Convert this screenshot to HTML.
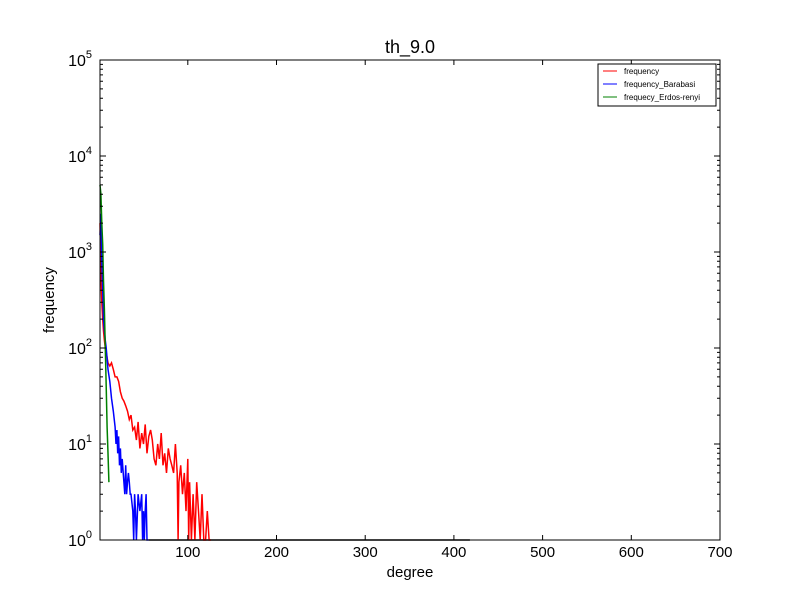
<!DOCTYPE html>
<html><head><meta charset="utf-8"><style>
body{margin:0;background:#fff;}
svg{display:block;font-family:"Liberation Sans","DejaVu Sans",sans-serif;}
</style></head><body>
<svg id="c" width="800" height="600">
<rect width="800" height="600" fill="#fff"/>
<text x="410" y="53" font-size="18" text-anchor="middle">th_9.0</text>
<g id="plot"></g>
<rect x="100" y="60" width="620" height="480" fill="none" stroke="#000"/>
<g id="axes"></g>
<text x="410" y="577" font-size="15" text-anchor="middle">degree</text>
<text x="54" y="300" font-size="15" text-anchor="middle" transform="rotate(-90 54 300)">frequency</text>
<g>
<rect x="598" y="64" width="118" height="42" fill="#fff" stroke="#000"/>
<line x1="603" y1="71" x2="617" y2="71" stroke="red"/><text x="624" y="74" font-size="8">frequency</text>
<line x1="603" y1="84" x2="617" y2="84" stroke="blue"/><text x="624" y="87" font-size="8">frequency_Barabasi</text>
<line x1="603" y1="97" x2="617" y2="97" stroke="green"/><text x="624" y="100" font-size="8">frequecy_Erdos-renyi</text>
</g>
</svg>
<script>
const xTicks=[100,200,300,400,500,600,700];
const yExps=[0,1,2,3,4,5];
const redDeg=[1,2,3,4,5,6,7,8,10,12,14,16,18,20,22,24,26,28,30,32,34,36,38,40,42,44,46,48,50,52,54,56,58,60,62,64,66,68,70,72,74,76,78,80,82,84,86,88,89,90,92,94,96,98,100,101,102,104,106,108,110,112,114,116,118,120,122,124,126];
const redVal=[2000,600,300,200,150,120,100,90,70,65,70,60,50,50,45,35,30,28,25,22,18,20,14,15,11,17,9,13,10,16,8,12,14,11,7,6,10,7,13,6,8,5,9,7,6,5,10,5,1,4,6,3,5,2,7,1,4,1,3,1,4,2,1,3,1,1,2,1,1];
const blueDeg=[1,2,3,4,5,6,7,8,10,12,14,16,18,19,20,21,22,23,24,25,26,28,29,30,31,32,33,34,35,36,38,39,40,41,42,44,46,48,49,50,51,52,53,54,55,56];
const blueVal=[1500,2500,800,400,200,150,120,100,60,45,30,22,15,10,14,8,12,6,9,5,7,4,3,6,3,4,5,4,3,3,2,1,3,2,1,3,2,3,1,2,1,2,3,1,1,1];
const greenDeg=[1,2,3,4,5,6,7,8,9,10,11];
const greenVal=[5000,4000,2000,1200,500,250,100,40,15,8,4];
const tailDeg=[56,418];
const tailVal=[1,1];
const X=d=>100+(d-1)*(620/699);
const Y=v=>540-Math.log10(v)*96;
const ns='http://www.w3.org/2000/svg';
const plot=document.getElementById('plot'),axes=document.getElementById('axes');
function line(deg,val,col,name){
  const p=document.createElementNS(ns,'polyline');
  p.setAttribute('points',deg.map((d,i)=>X(d).toFixed(1)+','+Y(val[i]).toFixed(1)).join(' '));
  p.setAttribute('fill','none');p.setAttribute('stroke',col);p.setAttribute('stroke-width','1.5');
  
  
  plot.appendChild(p);
}
line(tailDeg,tailVal,'#000','tail-line');
line(redDeg,redVal,'red','series-frequency');
line(blueDeg,blueVal,'blue','series-barabasi');
line(greenDeg,greenVal,'green','series-erdos-renyi');
xTicks.forEach(t=>{
  const x=X(t);
  const l=document.createElementNS(ns,'path');
  l.setAttribute('d',`M${x},540v-5M${x},60v5`);l.setAttribute('stroke','#000');
  
  
  axes.appendChild(l);
  const tx=document.createElementNS(ns,'text');
  tx.setAttribute('x',x);tx.setAttribute('y',557);tx.setAttribute('font-size','15');tx.setAttribute('text-anchor','middle');
  tx.textContent=t;
  
  
  axes.appendChild(tx);
});
yExps.forEach(e=>{
  const y=Y(Math.pow(10,e));
  const l=document.createElementNS(ns,'path');
  let d=`M100,${y}h6M720,${y}h-6`;
  if(e<5){for(let k=2;k<10;k++){const yy=Y(k*Math.pow(10,e));d+=`M100,${yy}h3M720,${yy}h-3`;}}
  l.setAttribute('d',d);l.setAttribute('stroke','#000');
  
  
  axes.appendChild(l);
  const tx=document.createElementNS(ns,'text');
  tx.setAttribute('x',92);tx.setAttribute('y',y+6);tx.setAttribute('font-size','16');tx.setAttribute('text-anchor','end');
  tx.innerHTML='10<tspan dy="-8" font-size="11">'+e+'</tspan>';
  
  
  axes.appendChild(tx);
});
</script>
</body></html>
